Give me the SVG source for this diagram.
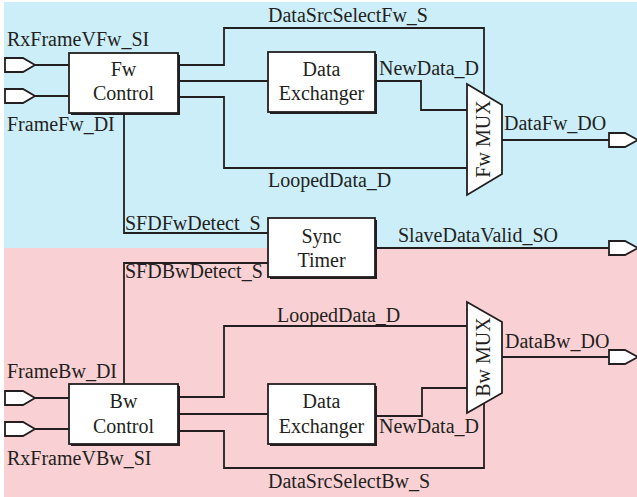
<svg xmlns="http://www.w3.org/2000/svg" width="637" height="497" viewBox="0 0 637 497">
<defs>
<style>
.lbl{font-family:"Liberation Serif","Times New Roman",serif;font-size:20px;fill:#231f20}
.btx{font-family:"Liberation Serif","Times New Roman",serif;font-size:20px;fill:#231f20;text-anchor:middle}
.wire{fill:none;stroke:#231f20;stroke-width:1.8}
.box{fill:#ffffff;stroke:#231f20;stroke-width:1.8}
.shd{fill:#231f20}
.port{fill:#ffffff;stroke:#231f20;stroke-width:1.8;stroke-linejoin:miter}
</style>
</defs>
<rect x="0" y="0" width="637" height="497" fill="#ffffff"/>
<rect x="4" y="2" width="633" height="246" fill="#cceef9"/>
<rect x="4" y="248" width="633" height="249" fill="#f9d0d3"/>

<g id="connectors">
<polyline class="wire" points="35,65 69,65"/>
<polyline class="wire" points="35,96 69,96"/>
<polyline class="wire" points="178,65 224,65 224,28 484,28 484,94"/>
<polyline class="wire" points="178,81 268,81"/>
<polyline class="wire" points="178,97 224,97 224,168 467,168"/>
<polyline class="wire" points="376,81 421,81 421,110 467,110"/>
<polyline class="wire" points="502,140 609,140"/>
<polyline class="wire" points="124,113 124,233 268,233"/>
<polyline class="wire" points="376,248 609,248"/>
<polyline class="wire" points="268,263 124,263 124,384"/>
<polyline class="wire" points="35,398 69,398"/>
<polyline class="wire" points="35,429 69,429"/>
<polyline class="wire" points="178,397 224,397 224,326 467,326"/>
<polyline class="wire" points="178,414 268,414"/>
<polyline class="wire" points="178,431 224,431 224,468 484,468 484,403"/>
<polyline class="wire" points="376,416 422,416 422,388 467,388"/>
<polyline class="wire" points="502,357 609,357"/>
</g>

<g id="in-RxFrameVFw">
<polygon class="port" points="5,58 23,58 35,65 23,72 5,72"/>
<text class="lbl" x="7" y="46">RxFrameVFw_SI</text>
</g>
<g id="in-FrameFw">
<polygon class="port" points="5,89 23,89 35,96 23,103 5,103"/>
<text class="lbl" x="7" y="131">FrameFw_DI</text>
</g>
<g id="in-FrameBw">
<polygon class="port" points="5,391 23,391 35,398 23,405 5,405"/>
<text class="lbl" x="7" y="378">FrameBw_DI</text>
</g>
<g id="in-RxFrameVBw">
<polygon class="port" points="5,422 23,422 35,429 23,436 5,436"/>
<text class="lbl" x="7" y="465">RxFrameVBw_SI</text>
</g>

<g id="fw-control">
<rect class="shd" x="71" y="55" width="109" height="60"/>
<rect class="box" x="69" y="53" width="109" height="60"/>
<text class="btx" x="123.5" y="76">Fw</text>
<text class="btx" x="123.5" y="100">Control</text>
</g>
<g id="fw-exchanger">
<rect class="shd" x="270" y="54" width="107" height="60"/>
<rect class="box" x="268" y="52" width="107" height="60"/>
<text class="btx" x="321.5" y="76">Data</text>
<text class="btx" x="321.5" y="100">Exchanger</text>
</g>
<g id="fw-mux">
<polygon class="box" points="467,84 502,105 502,174 467,195"/>
<text class="btx" x="490" y="139" transform="rotate(-90 490 139)">Fw MUX</text>
</g>
<g id="sync-timer">
<rect class="shd" x="270" y="220" width="107" height="59"/>
<rect class="box" x="268" y="218" width="107" height="59"/>
<text class="btx" x="321.5" y="243">Sync</text>
<text class="btx" x="321.5" y="267">Timer</text>
</g>
<g id="bw-control">
<rect class="shd" x="71" y="386" width="109" height="60"/>
<rect class="box" x="69" y="384" width="109" height="60"/>
<text class="btx" x="123.5" y="408">Bw</text>
<text class="btx" x="123.5" y="433">Control</text>
</g>
<g id="bw-exchanger">
<rect class="shd" x="270" y="386" width="107" height="60"/>
<rect class="box" x="268" y="384" width="107" height="60"/>
<text class="btx" x="321.5" y="408">Data</text>
<text class="btx" x="321.5" y="433">Exchanger</text>
</g>
<g id="bw-mux">
<polygon class="box" points="467,302 502,322 502,393 467,413"/>
<text class="btx" x="490" y="357" transform="rotate(-90 490 357)">Bw MUX</text>
</g>

<g id="out-DataFw">
<polygon class="port" points="609,133 625,133 638,140 625,147 609,147"/>
<text class="lbl" x="504" y="130">DataFw_DO</text>
</g>
<g id="out-SlaveDataValid">
<polygon class="port" points="609,241 625,241 638,248 625,255 609,255"/>
<text class="lbl" x="398" y="242">SlaveDataValid_SO</text>
</g>
<g id="out-DataBw">
<polygon class="port" points="609,350 625,350 638,357 625,364 609,364"/>
<text class="lbl" x="505" y="348">DataBw_DO</text>
</g>

<g id="labels">
<text class="lbl" x="268" y="22">DataSrcSelectFw_S</text>
<text class="lbl" x="379" y="75">NewData_D</text>
<text class="lbl" x="268" y="187">LoopedData_D</text>
<text class="lbl" x="125" y="230">SFDFwDetect_S</text>
<text class="lbl" x="125" y="278">SFDBwDetect_S</text>
<text class="lbl" x="277" y="322">LoopedData_D</text>
<text class="lbl" x="379" y="433">NewData_D</text>
<text class="lbl" x="268" y="488">DataSrcSelectBw_S</text>
</g>
</svg>
